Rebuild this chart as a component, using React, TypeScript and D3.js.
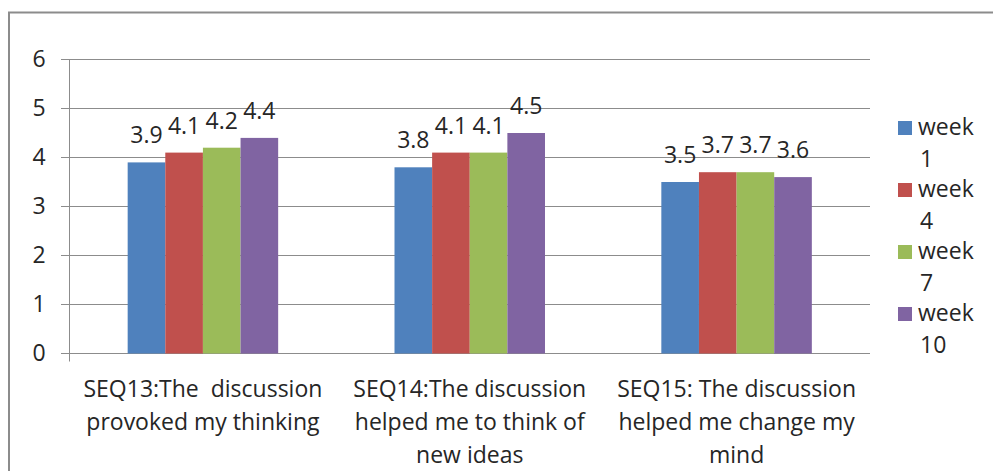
import React from "react";
import * as d3 from "d3";

const categories = [
  ["SEQ13:The  discussion", "provoked my thinking"],
  ["SEQ14:The discussion", "helped me to think of", "new ideas"],
  ["SEQ15: The discussion", "helped me change my", "mind"],
];
const seriesNames = ["week 1", "week 4", "week 7", "week 10"];
const week1 = [3.9, 3.8, 3.5];
const week4 = [4.1, 4.1, 3.7];
const week7 = [4.2, 4.1, 3.7];
const week10 = [4.4, 4.5, 3.6];
const yTicks = [0, 1, 2, 3, 4, 5, 6];
const colors = ["#4F81BD", "#C0504D", "#9BBB59", "#8064A2"];

const seriesValues = [week1, week4, week7, week10];
const FONT = "'Open Sans', sans-serif";
const TXT = "#262626";
const FS = 23;

export default function App() {
  const W = 993, H = 471;
  const left = 69.5, right = 870, top = 59.5, bottom = 353.5;
  const x0 = d3.scaleBand<number>().domain([0, 1, 2]).range([left, right]).paddingInner(0).paddingOuter(0);
  const groupW = 150.5;
  const x1 = d3.scaleBand<number>().domain([0, 1, 2, 3]).range([0, groupW]);
  const y = d3.scaleLinear().domain([0, 6]).range([bottom, top]);
  const bw = x1.bandwidth();

  return (
    <svg width={W} height={H} style={{ position: "absolute", left: 0, top: 0 }}>
      <rect x={0} y={0} width={W} height={H} fill="#fff" />
      <path d={`M9,${H + 5} V12.5 H${W + 5}`} fill="none" stroke="#8c8c8c" strokeWidth={2} />
      {yTicks.map((t) => (
        <g key={t}>
          <line x1={61} x2={right} y1={y(t)} y2={y(t)} stroke="#8c8c8c" strokeWidth={1} />
          <text x={39} y={y(t) + 7.5} fontSize={FS} fontFamily={FONT} textAnchor="middle" fill={TXT}>{t}</text>
        </g>
      ))}
      <line x1={left} x2={left} y1={top} y2={bottom + 8} stroke="#8c8c8c" strokeWidth={1} />
      {[0, 1, 2].map((ci) => {
        const gx = (x0(ci) as number) + (x0.bandwidth() - groupW) / 2;
        return (
          <g key={ci}>
            {seriesValues.map((vals, si) => {
              const bx = gx + (x1(si) as number);
              const v = vals[ci];
              return (
                <g key={si}>
                  <rect x={bx} y={y(v)} width={bw} height={bottom - y(v)} fill={colors[si]} />
                  <text x={bx + bw / 2} y={y(v) - 19} fontSize={FS} fontFamily={FONT} textAnchor="middle" fill={TXT}>{v.toFixed(1)}</text>
                </g>
              );
            })}
            {categories[ci].map((line, li) => (
              <text key={li} x={(x0(ci) as number) + x0.bandwidth() / 2} y={397 + li * 33} fontSize={FS} fontFamily={FONT} textAnchor="middle" fill={TXT} style={{ whiteSpace: "pre" }}>{line}</text>
            ))}
          </g>
        );
      })}
      {seriesNames.map((n, i) => {
        const [w, num] = n.split(" ");
        const yy = 121 + i * 62;
        return (
          <g key={n}>
            <rect x={898} y={yy} width={14} height={14} fill={colors[i]} />
            <text x={918} y={yy + 14} fontSize={FS} fontFamily={FONT} fill={TXT}>{w}</text>
            <text x={920} y={yy + 46} fontSize={FS} fontFamily={FONT} fill={TXT}>{num}</text>
          </g>
        );
      })}
    </svg>
  );
}
